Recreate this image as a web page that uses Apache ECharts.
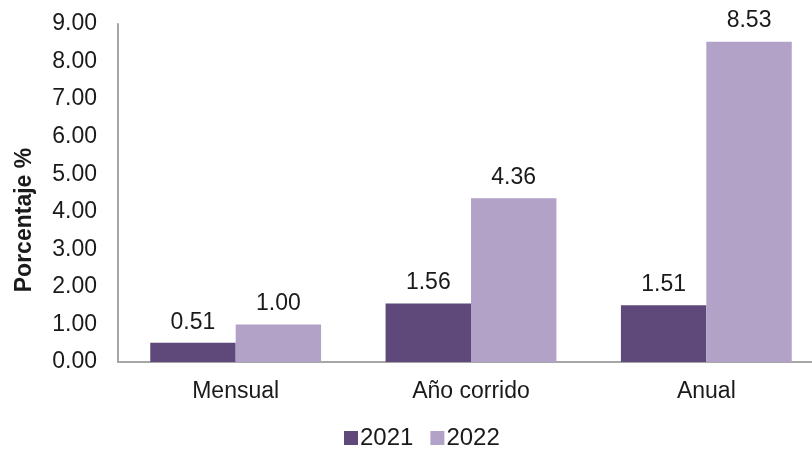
<!DOCTYPE html>
<html><head><meta charset="utf-8">
<script src="https://cdn.jsdelivr.net/npm/echarts@6/dist/echarts.min.js"></script>
<style>html,body{margin:0;padding:0;background:#fff}#c{width:812px;height:449px}</style>
</head><body><div id="c"></div>
<script>
const categories = ["Mensual", "Año corrido", "Anual"];
const values2021 = [0.51, 1.56, 1.51];
const values2022 = [1.00, 4.36, 8.53];
const seriesNames = ["2021", "2022"];
const chart = echarts.init(document.getElementById('c'));
const font = 'Liberation Sans, Arial, sans-serif';
const lbl = {show:true, position:'top', distance:9, fontSize:23, fontFamily:font, color:'#1a1a1a', formatter:p=>p.value.toFixed(2)};
chart.setOption({
  animation:false,
  textStyle:{fontFamily:font},
  grid:{left:118, top:24, width:706, height:338, containLabel:false, outerBoundsMode:'none'},
  legend:{top:421, left:339, itemWidth:14, itemHeight:14, itemGap:17, icon:'rect',
    textStyle:{fontSize:24, color:'#1a1a1a', fontFamily:font, padding:[0,0,0,-3]}, data:seriesNames},
  xAxis:{type:'category', data:categories,
    axisLine:{lineStyle:{color:'#a6a6a6', width:2}}, axisTick:{show:false},
    axisLabel:{fontSize:23, color:'#1a1a1a', margin:18, fontFamily:font}},
  yAxis:{type:'value', min:0, max:9, interval:1,
    name:'Porcentaje %', nameLocation:'middle', nameGap:82, nameRotate:90,
    nameTextStyle:{fontSize:23, fontWeight:'bold', color:'#1a1a1a', fontFamily:font, padding:[0,54,0,0]},
    axisLine:{show:true, lineStyle:{color:'#a6a6a6', width:2}}, axisTick:{show:false}, splitLine:{show:false},
    axisLabel:{fontSize:23, color:'#1a1a1a', margin:21, formatter:v=>v.toFixed(2), fontFamily:font}},
  series:[
    {name:seriesNames[0], type:'bar', data:values2021, barWidth:'36.3%', barGap:'0%', itemStyle:{color:'#5f497a'}, label:lbl},
    {name:seriesNames[1], type:'bar', data:values2022, barWidth:'36.3%', barGap:'0%', itemStyle:{color:'#b3a2c7'}, label:lbl}
  ]
});
</script></body></html>
